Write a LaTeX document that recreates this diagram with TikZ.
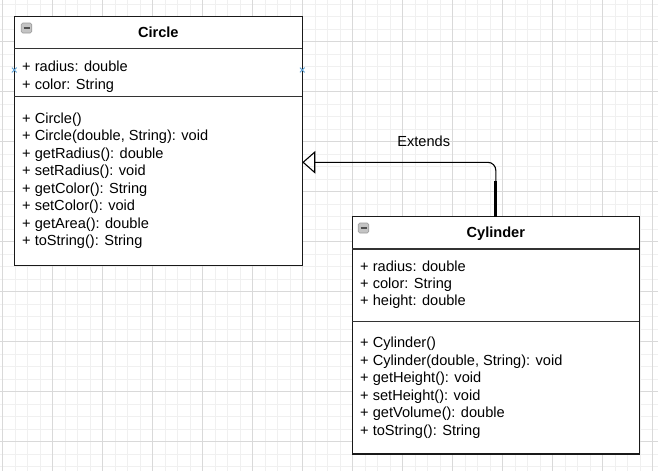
\documentclass[tikz,border=0pt]{standalone}
\usepackage{fontspec}
\setmainfont{Liberation Sans}
\usetikzlibrary{arrows.meta,shapes.misc}
\definecolor{majorgrid}{HTML}{D9D9D9}
\definecolor{minorgrid}{HTML}{F0F0F0}
\definecolor{iconfill}{HTML}{C4C4C4}
\definecolor{iconline}{HTML}{9A9A9A}
\definecolor{iconbar}{HTML}{505050}
\definecolor{pointblue}{HTML}{5AA0D6}
\begin{document}
\begin{tikzpicture}[x=1pt,y=-1pt,
  minorline/.style={draw=minorgrid,line width=0.6pt},
  majorline/.style={draw=majorgrid,line width=0.8pt},
  classbox/.style={draw=black!90,line width=1.3pt,fill=white,inner sep=0pt,outer sep=0pt},
  sepline/.style={draw=black!80,line width=1.1pt},
  member/.style={anchor=base west,inner sep=0pt,font=\fontsize{14.6}{17.5}\selectfont},
  titletext/.style={anchor=base,inner sep=0pt,font=\fontsize{14.6}{17.5}\selectfont\bfseries},
  lbl/.style={anchor=base,inner sep=0pt,font=\fontsize{14.6}{17.5}\selectfont},
  minusicon/.style={draw=iconline,fill=iconfill,rounded corners=1.5pt,minimum width=10.5pt,minimum height=10pt,inner sep=0pt,line width=0.6pt},
  xmark/.style={cross out,draw=pointblue,line width=0.8pt,minimum size=4pt,inner sep=0pt},
  conn/.style={draw=black,line width=1.1pt,rounded corners=8pt,-{Triangle[open,length=13pt,width=22.6pt,line width=1.1pt]}},
  selseg/.style={draw=black,line width=2.7pt}
]
\useasboundingbox (0,0) rectangle (658,471);
\fill[white] (0,0) rectangle (658,471);
% grid
\foreach \k in {0,...,52} \draw[minorline] ({2.5+12.5*\k},0) -- ++(0,471);
\foreach \k in {0,...,37} \draw[minorline] (0,{4.2+12.5*\k}) -- ++(658,0);
\foreach \k in {0,...,13} \draw[majorline] ({2.5+50*\k},0) -- ++(0,471);
\foreach \k in {0,...,9} \draw[majorline] (0,{41.7+50*\k}) -- ++(658,0);

% Circle class
\node[classbox,minimum width=288pt,minimum height=249.4pt] (circle) at (158.3,141) {};
\draw[sepline] ([yshift=-32.4pt]circle.north west) -- ([yshift=-32.4pt]circle.north east);
\draw[sepline] ([yshift=-80.4pt]circle.north west) -- ([yshift=-80.4pt]circle.north east);
\node[minusicon] (circicon) at (26.5,28) {};
\draw[iconbar,line width=1.4pt] ([xshift=-3pt]circicon.center) -- ([xshift=3pt]circicon.center);
\node[titletext] (circtitle) at (158.3,37.3) {Circle};
\foreach \t [count=\i] in {{+ radius: double},{+ color: String}}
  \node[member,name=circattr\i] at (22,{71.5+17.5*(\i-1)}) {\t};
\foreach \t [count=\i] in {{+ Circle()},{+ Circle(double, String): void},{+ getRadius(): double},{+ setRadius(): void},{+ getColor(): String},{+ setColor(): void},{+ getArea(): double},{+ toString(): String}}
  \node[member,name=circmeth\i] at (22,{123.3+17.5*(\i-1)}) {\t};
\node[xmark] (pt1) at (14.3,70) {};
\node[xmark] (pt2) at (302.3,70) {};

% Cylinder class
\node[classbox,minimum width=287pt,minimum height=237.3pt] (cyl) at (495.8,335.35) {};
\draw[sepline] ([yshift=-32.3pt]cyl.north west) -- ([yshift=-32.3pt]cyl.north east);
\draw[sepline] ([yshift=-105pt]cyl.north west) -- ([yshift=-105pt]cyl.north east);
\node[minusicon] (cylicon) at (363.5,228) {};
\draw[iconbar,line width=1.4pt] ([xshift=-3pt]cylicon.center) -- ([xshift=3pt]cylicon.center);
\node[titletext] (cyltitle) at (495.8,237.3) {Cylinder};
\foreach \t [count=\i] in {{+ radius: double},{+ color: String},{+ height: double}}
  \node[member,name=cylattr\i] at (360,{271+17.4*(\i-1)}) {\t};
\foreach \t [count=\i] in {{+ Cylinder()},{+ Cylinder(double, String): void},{+ getHeight(): void},{+ setHeight(): void},{+ getVolume(): double},{+ toString(): String}}
  \node[member,name=cylmeth\i] at (360,{347.7+17.47*(\i-1)}) {\t};

% Extends connector
\draw[conn] (cyl.north) |- ([yshift=-21.3pt]circle.east);
\draw[selseg] (cyl.north) -- ++(0,-35.5);
\node[lbl] (ext) at (423.7,146) {Extends};
\end{tikzpicture}
\end{document}
